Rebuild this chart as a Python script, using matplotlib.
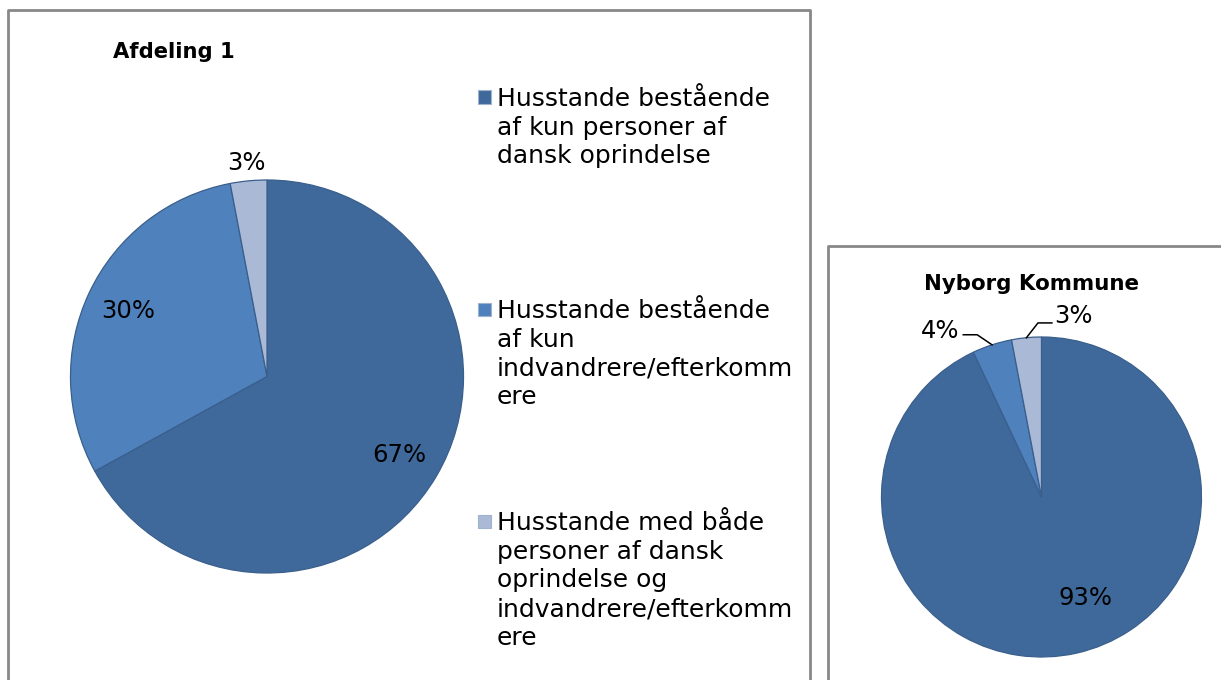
import numpy as np
import matplotlib
matplotlib.use("Agg")
import matplotlib.pyplot as plt
from matplotlib.patches import Rectangle
from matplotlib.lines import Line2D

# data
categories = [
    "Husstande bestående\naf kun personer af\ndansk oprindelse",
    "Husstande bestående\naf kun\nindvandrere/efterkomm\nere",
    "Husstande med både\npersoner af dansk\noprindelse og\nindvandrere/efterkomm\nere",
]
afdeling_values = [67, 30, 3]
nyborg_values = [93, 4, 3]
afdeling_title = "Afdeling 1"
nyborg_title = "Nyborg Kommune"

colors = ["#40699b", "#4f81bd", "#aab9d6"]
edge = "#3a5f8c"

W, H = 1221, 680
plt.rcParams["font.family"] = "DejaVu Sans"
fig = plt.figure(figsize=(W / 100, H / 100), dpi=100)


def fx(x):
    return x / W


def fy(y):
    return 1 - y / H


# chart frames (grey border lines)
frame = dict(color="#888888", lw=2, transform=fig.transFigure)
fig.add_artist(Line2D([fx(8), fx(8), fx(810), fx(810)], [0, fy(10), fy(10), 0], **frame))
fig.add_artist(Line2D([fx(828), fx(828), 1.01], [0, fy(246), fy(246)], **frame))


def draw_pie(box, values):
    x0, y0, x1, y1 = box
    ax = fig.add_axes([fx(x0), fy(y1), (x1 - x0) / W, (y1 - y0) / H])
    wedges, _ = ax.pie(values, colors=colors, startangle=90, counterclock=False,
                       wedgeprops=dict(edgecolor=edge, linewidth=0.9))
    ax.set_xlim(-1, 1)
    ax.set_ylim(-1, 1)
    ax.set_aspect("equal")
    ax.axis("off")
    return ax, wedges


def mid(w):
    return np.deg2rad((w.theta1 + w.theta2) / 2)


# left pie
ax1, w1 = draw_pie((70, 180, 464, 573), afdeling_values)
label_r = [0.78, 0.78, 1.09]
for w, v, r in zip(w1, afdeling_values, label_r):
    a = mid(w)
    ax1.text(r * np.cos(a), r * np.sin(a), f"{v}%", ha="center", va="center",
             fontsize=17.5, clip_on=False)

fig.text(fx(113), fy(58), afdeling_title, fontsize=15.2, fontweight="bold",
         ha="left", va="baseline")

# legend drawn by hand (Excel centres each entry in its own slot)
first_line_y = [97, 309, 521]
for lab, c, yc in zip(categories, colors, first_line_y):
    fig.add_artist(Rectangle((fx(478), fy(yc + 6.5)), 13 / W, 13 / H,
                             facecolor=c, edgecolor="#9fb3cf", lw=0.8,
                             transform=fig.transFigure))
    fig.text(fx(497), fy(yc - 10), lab, fontsize=18, ha="left", va="top",
             linespacing=1.25)

# right pie
ax2, w2 = draw_pie((881, 337, 1202, 657), nyborg_values)
fig.text(fx(1031.5), fy(290), nyborg_title, fontsize=15.4, fontweight="bold",
         ha="center", va="baseline")

label_xy = [(0.274, -0.633), (-0.632, 1.039), (0.202, 1.132)]
for v, (x, y) in zip(nyborg_values, label_xy):
    ax2.text(x, y, f"{v}%", ha="center", va="center", fontsize=17.5, clip_on=False)

# leader lines for the two small slices
leaders = {1: [(-0.489, 1.014), (-0.402, 1.014)], 2: [(0.065, 1.088), (-0.022, 1.088)]}
for i, pts in leaders.items():
    a = mid(w2[i])
    xs = [p[0] for p in pts] + [np.cos(a)]
    ys = [p[1] for p in pts] + [np.sin(a)]
    ax2.plot(xs, ys, color="black", lw=1.1, clip_on=False)

fig.savefig("out.png", dpi=100)
